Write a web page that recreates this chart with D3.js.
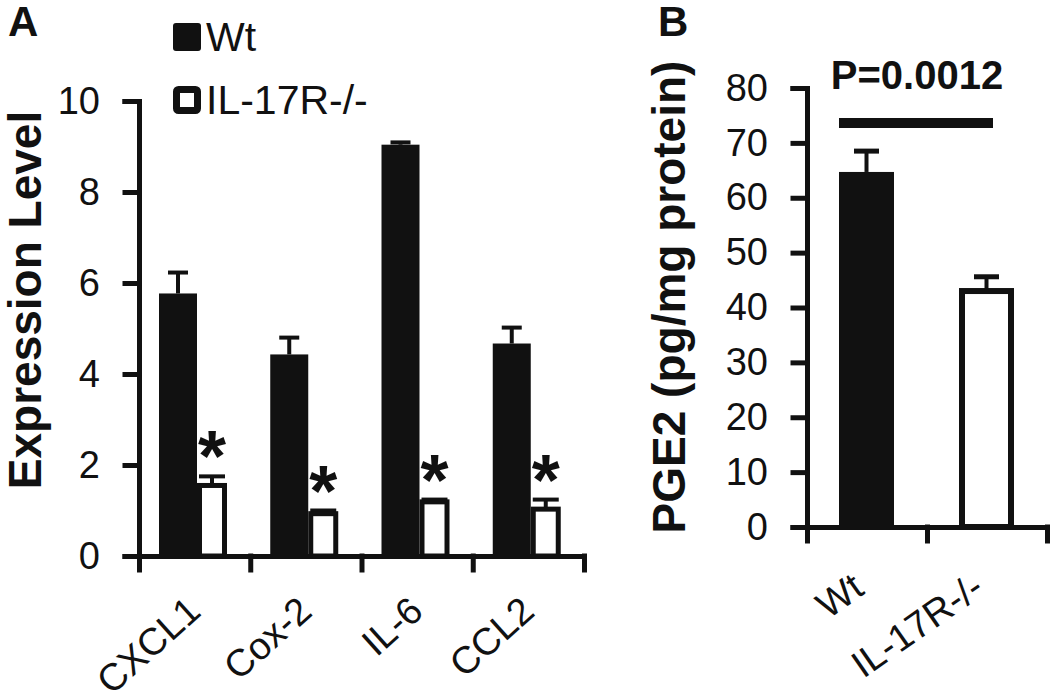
<!DOCTYPE html>
<html>
<head>
<meta charset="utf-8">
<script src="https://cdn.jsdelivr.net/npm/d3@7"></script>
<style>
  body { margin: 0; background: #fff; }
  svg { display: block; font-family: "Liberation Sans", Arial, sans-serif; }
</style>
</head>
<body>
<svg id="chart" width="1050" height="694"></svg>
<script>
// panel A data (expression level, mean and upper SEM)
var genes = ["CXCL1", "Cox-2", "IL-6", "CCL2"];
var wtExpr = [5.77, 4.43, 9.04, 4.67];
var wtErr = [0.46, 0.37, 0.05, 0.35];
var koExpr = [1.55, 0.93, 1.19, 1.03];
var koErr = [0.20, 0.07, 0.05, 0.21];
var exprTicks = [0, 2, 4, 6, 8, 10];

// panel B data (PGE2)
var groups = ["Wt", "IL-17R-/-"];
var pge = [64.7, 43.0];
var pgeErr = [3.8, 2.6];
var pgeTicks = [0, 10, 20, 30, 40, 50, 60, 70, 80];
var pText = "P=0.0012";
var sigLevel = 73.6;

var legendItems = ["Wt", "IL-17R-/-"];

var svg = d3.select("#chart");
var ink = "#111";
var font = 38;

function styleAxis(g) {
    g.selectAll("path, line").attr("stroke", ink).attr("stroke-width", 5).attr("stroke-linecap", "square");
    g.selectAll("text").attr("fill", ink).attr("font-size", font).attr("font-family", "Liberation Sans, Arial, sans-serif");
}

// ---------------- panel A ----------------
var yA = d3.scaleLinear().domain([0, 10]).range([556, 101]);
var xA = d3.scaleBand().domain(genes).range([139, 584]);
var xEdge = d3.scaleLinear().domain([0, genes.length]).range([139, 584]);
var xSub = d3.scaleBand().domain(["wt", "ko"]).range([20, 88]);

var gA = svg.append("g");

// bars
genes.forEach(function(g, i) {
    var x0 = xA(g);
    var bw = xSub.bandwidth();
    // Wt filled bar
    gA.append("rect")
        .attr("x", x0 + xSub("wt")).attr("y", yA(wtExpr[i]))
        .attr("width", bw + 4).attr("height", yA(0) - yA(wtExpr[i]))
        .attr("fill", ink);
    // Wt error
    var cx = x0 + xSub("wt") + (bw + 4) / 2;
    gA.append("line").attr("x1", cx).attr("x2", cx)
        .attr("y1", yA(wtExpr[i])).attr("y2", yA(wtExpr[i] + wtErr[i]))
        .attr("stroke", ink).attr("stroke-width", 4);
    gA.append("line").attr("x1", cx - 10).attr("x2", cx + 10)
        .attr("y1", yA(wtExpr[i] + wtErr[i])).attr("y2", yA(wtExpr[i] + wtErr[i]))
        .attr("stroke", ink).attr("stroke-width", 4);

    // IL-17R-/- open bar
    var sw = 5;
    var kx = x0 + xSub("ko") + 4 + sw / 2;
    var kw = bw - 4 - sw;
    var kcx = kx + kw / 2;
    gA.append("line").attr("x1", kcx).attr("x2", kcx)
        .attr("y1", yA(koExpr[i])).attr("y2", yA(koExpr[i] + koErr[i]))
        .attr("stroke", ink).attr("stroke-width", 4);
    gA.append("line").attr("x1", kcx - 13).attr("x2", kcx + 13)
        .attr("y1", yA(koExpr[i] + koErr[i])).attr("y2", yA(koExpr[i] + koErr[i]))
        .attr("stroke", ink).attr("stroke-width", 4);
    gA.append("rect")
        .attr("x", kx).attr("y", yA(koExpr[i]))
        .attr("width", kw).attr("height", yA(0) - yA(koExpr[i]))
        .attr("fill", "#fff").attr("stroke", ink).attr("stroke-width", sw);

    // significance star
    gA.append("text")
        .attr("x", kcx).attr("y", yA(koExpr[i] + koErr[i]) + 5)
        .attr("text-anchor", "middle")
        .attr("font-size", 72).attr("font-weight", "bold").attr("fill", ink)
        .text("*");
});

// y axis A
gA.append("g").attr("transform", "translate(139,0)")
    .call(d3.axisLeft(yA).tickValues(exprTicks).tickSize(14).tickSizeOuter(14).tickPadding(25).tickFormat(d3.format("d")))
    .call(styleAxis);

// x axis A (ticks at category edges)
gA.append("g").attr("transform", "translate(0,556)")
    .call(d3.axisBottom(xEdge).tickValues(d3.range(genes.length + 1)).tickSize(14).tickSizeOuter(0).tickFormat(""))
    .call(styleAxis);

// category labels A
gA.selectAll(".catA").data(genes).enter().append("text")
    .attr("text-anchor", "end")
    .attr("font-size", font).attr("fill", ink)
    .attr("transform", function(d) {
        return "translate(" + (xA(d) + xA.bandwidth() / 2 + 8) + ",614) rotate(-42)";
    })
    .text(function(d) { return d; });

// y title A
gA.append("text")
    .attr("transform", "translate(41,300) rotate(-90)")
    .attr("text-anchor", "middle")
    .attr("font-size", 46).attr("font-weight", "bold").attr("fill", ink)
    .text("Expression Level");

// legend
var leg = svg.append("g");
legendItems.forEach(function(name, i) {
    var ly = 23 + i * 63;
    if (i === 0) {
        leg.append("rect").attr("x", 173).attr("y", ly).attr("width", 28).attr("height", 28)
            .attr("rx", 3).attr("fill", ink);
    } else {
        leg.append("rect").attr("x", 176.5).attr("y", ly + 3.5).attr("width", 21).attr("height", 21)
            .attr("rx", 2).attr("fill", "#fff").attr("stroke", ink).attr("stroke-width", 7);
    }
    leg.append("text").attr("x", 206).attr("y", ly + 28)
        .attr("font-size", 41).attr("fill", ink).text(name);
});

// panel letters
svg.append("text").attr("x", 8).attr("y", 36).attr("font-size", 42).attr("font-weight", "bold").attr("fill", ink).text("A");
svg.append("text").attr("x", 658).attr("y", 36).attr("font-size", 42).attr("font-weight", "bold").attr("fill", ink).text("B");

// ---------------- panel B ----------------
var yB = d3.scaleLinear().domain([0, 80]).range([527, 88]);
var xB = d3.scaleBand().domain(groups).range([807, 1047]);
var xEdgeB = d3.scaleLinear().domain([0, groups.length]).range([807, 1047]);
var gB = svg.append("g");
var barOff = 32, barW = 55;

groups.forEach(function(g, i) {
    var x0 = xB(g);
    var cx = x0 + barOff + barW / 2;
    gB.append("line").attr("x1", cx).attr("x2", cx)
        .attr("y1", yB(pge[i])).attr("y2", yB(pge[i] + pgeErr[i]))
        .attr("stroke", ink).attr("stroke-width", 4);
    gB.append("line").attr("x1", cx - 12.5).attr("x2", cx + 12.5)
        .attr("y1", yB(pge[i] + pgeErr[i])).attr("y2", yB(pge[i] + pgeErr[i]))
        .attr("stroke", ink).attr("stroke-width", 5);
    if (i === 0) {
        gB.append("rect").attr("x", x0 + barOff).attr("y", yB(pge[i]))
            .attr("width", barW).attr("height", yB(0) - yB(pge[i]))
            .attr("fill", ink);
    } else {
        var sw = 6;
        gB.append("rect").attr("x", x0 + barOff + sw / 2).attr("y", yB(pge[i]))
            .attr("width", barW - sw).attr("height", yB(0) - yB(pge[i]))
            .attr("fill", "#fff").attr("stroke", ink).attr("stroke-width", sw);
    }
});

// significance bar + p value
gB.append("line")
    .attr("x1", xB(groups[0]) + barOff).attr("x2", xB(groups[1]) + barOff + 34)
    .attr("y1", yB(sigLevel)).attr("y2", yB(sigLevel))
    .attr("stroke", ink).attr("stroke-width", 10);
gB.append("text")
    .attr("x", (xB(groups[0]) + xB(groups[1]) + barOff * 2 + 34) / 2 + 1).attr("y", 89)
    .attr("text-anchor", "middle")
    .attr("font-size", 40).attr("font-weight", "bold").attr("fill", ink)
    .text(pText);

gB.append("g").attr("transform", "translate(807,0)")
    .call(d3.axisLeft(yB).tickValues(pgeTicks).tickSize(14).tickSizeOuter(14).tickPadding(25))
    .call(styleAxis);

gB.append("g").attr("transform", "translate(0,527)")
    .call(d3.axisBottom(xEdgeB).tickValues(d3.range(groups.length + 1)).tickSize(14).tickSizeOuter(0).tickFormat(""))
    .call(styleAxis);

gB.selectAll(".catB").data(groups).enter().append("text")
    .attr("text-anchor", "end")
    .attr("font-size", font).attr("fill", ink)
    .attr("transform", function(d) {
        return "translate(" + (xB(d) + xB.bandwidth() / 2 - 1) + ",593) rotate(-35)";
    })
    .text(function(d) { return d; });

gB.append("text")
    .attr("transform", "translate(685,297) rotate(-90)")
    .attr("text-anchor", "middle")
    .attr("font-size", 46).attr("font-weight", "bold").attr("fill", ink)
    .text("PGE2 (pg/mg protein)");
</script>
</body>
</html>
